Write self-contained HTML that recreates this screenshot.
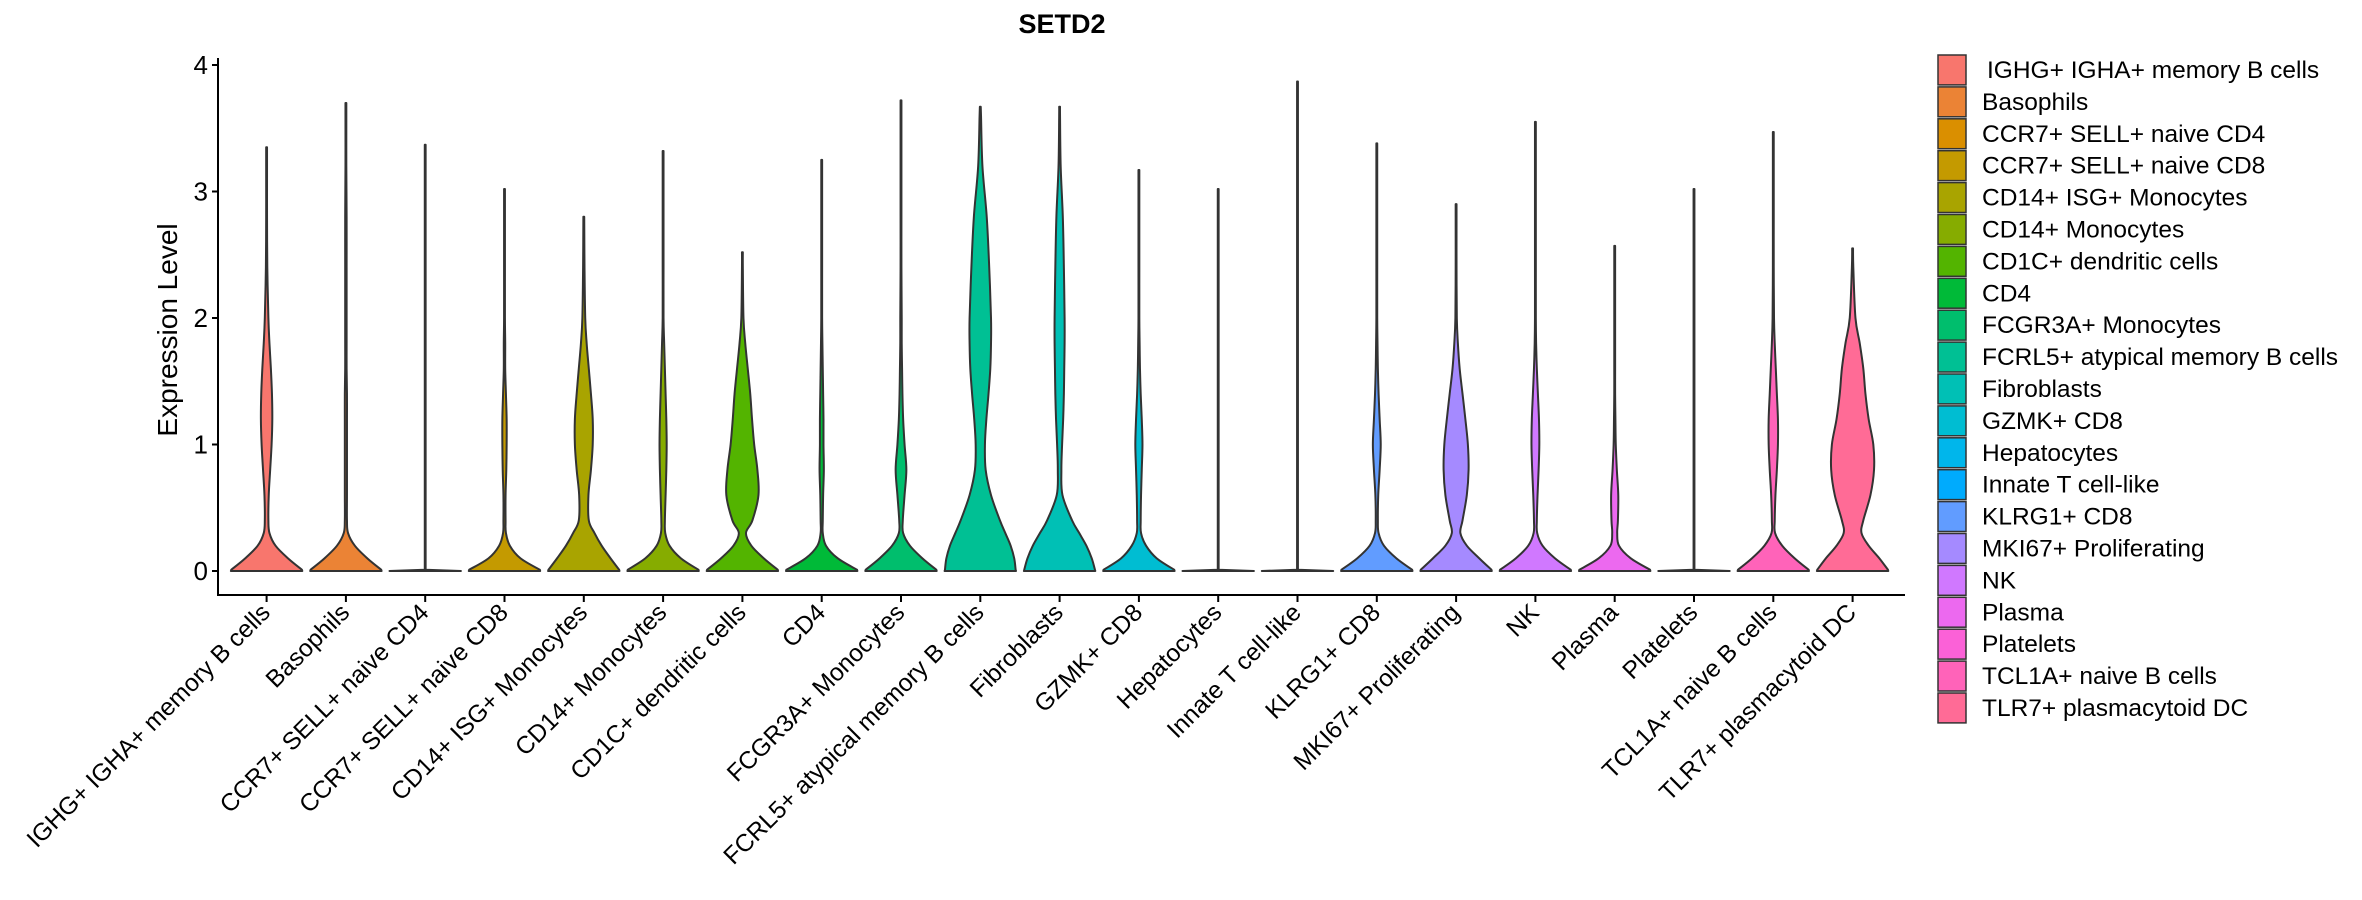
<!DOCTYPE html>
<html><head><meta charset="utf-8"><style>
html,body{margin:0;padding:0;background:#fff;}
svg{display:block;font-family:"Liberation Sans",sans-serif;}
</style></head><body>
<svg id="chart" width="2362" height="900" viewBox="0 0 2362 900" xmlns="http://www.w3.org/2000/svg">
<text x="1062" y="33" text-anchor="middle" font-size="27" font-weight="bold" fill="#000">SETD2</text>
<text transform="translate(177,330) rotate(-90)" text-anchor="middle" font-size="28" fill="#000">Expression Level</text>
<g id="plot"></g>
<g id="legend"></g>
</svg>
<script>
const categories = ["IGHG+ IGHA+ memory B cells","Basophils","CCR7+ SELL+ naive CD4","CCR7+ SELL+ naive CD8","CD14+ ISG+ Monocytes","CD14+ Monocytes","CD1C+ dendritic cells","CD4","FCGR3A+ Monocytes","FCRL5+ atypical memory B cells","Fibroblasts","GZMK+ CD8","Hepatocytes","Innate T cell-like","KLRG1+ CD8","MKI67+ Proliferating","NK","Plasma","Platelets","TCL1A+ naive B cells","TLR7+ plasmacytoid DC"];
const maxValues = [3.35,3.70,3.37,3.02,2.80,3.32,2.52,3.25,3.72,3.67,3.67,3.17,3.02,3.87,3.38,2.90,3.55,2.57,3.02,3.47,2.55];
const levels = [0,0.01,0.1,0.2,0.3,0.4,0.6,0.8,1.0,1.2,1.4,1.6,1.8,2.0,2.4,2.8,3.2,3.6];
const densities = [
 [1,.99,.6,.25,.08,.05,.06,.1,.14,.16,.15,.12,.08,.05,.02,.01,.01,.01],
 [1,.99,.6,.25,.06,.03,.03,.03,.03,.03,.03,.02,.02,.02,.02,.02,.01,.01],
 [1,.01,.01,.01,.01,.01,.01,.01,.01,.01,.01,.01,.01,.01,.01,.01,.01,.01],
 [1,.99,.45,.15,.04,.03,.03,.05,.06,.06,.04,.02,.02,.01,.01,.01,.01,.01],
 [1,.99,.75,.5,.3,.14,.13,.2,.25,.25,.2,.14,.08,.04,.02,.01,.01,.01],
 [1,.99,.5,.18,.06,.05,.07,.09,.1,.09,.07,.05,.03,.01,.01,.01,.01,.01],
 [1,.99,.6,.25,.1,.28,.45,.42,.33,.27,.22,.15,.08,.03,.01,.01,.01,.01],
 [1,.99,.45,.12,.03,.03,.04,.06,.05,.05,.04,.03,.02,.01,.01,.01,.01,.01],
 [1,.99,.6,.25,.06,.05,.1,.15,.1,.06,.04,.03,.02,.02,.01,.01,.01,.01],
 [1,.99,.95,.85,.7,.55,.3,.15,.13,.17,.23,.28,.3,.3,.25,.18,.06,.02],
 [1,.99,.9,.75,.55,.35,.08,.05,.07,.1,.12,.13,.14,.14,.12,.09,.03,.01],
 [1,.99,.5,.2,.06,.05,.06,.08,.1,.08,.05,.03,.02,.01,.01,.01,.01,.01],
 [1,.01,.01,.01,.01,.01,.01,.01,.01,.01,.01,.01,.01,.01,.01,.01,.01,.01],
 [1,.01,.01,.01,.01,.01,.01,.01,.01,.01,.01,.01,.01,.01,.01,.01,.01,.01],
 [1,.99,.55,.2,.05,.03,.04,.08,.11,.08,.05,.03,.02,.01,.01,.01,.01,.01],
 [1,.99,.65,.3,.12,.18,.3,.35,.33,.26,.18,.1,.05,.02,.01,.01,.01,.01],
 [1,.99,.55,.2,.05,.04,.06,.09,.11,.1,.07,.04,.02,.01,.01,.01,.01,.01],
 [1,.99,.45,.12,.07,.09,.1,.06,.03,.02,.01,.01,.01,.01,.01,.01,.01,.01],
 [1,.01,.01,.01,.01,.01,.01,.01,.01,.01,.01,.01,.01,.01,.01,.01,.01,.01],
 [1,.99,.6,.25,.05,.04,.06,.1,.13,.13,.1,.07,.04,.02,.01,.01,.01,.01],
 [1,.99,.75,.45,.25,.3,.5,.6,.58,.45,.36,.3,.2,.08,.02,.01,.01,.01]
];
const yTicks = [0,1,2,3,4];

const NS = "http://www.w3.org/2000/svg";
const X0 = 218, X1 = 1905, Y0 = 571, PX_PER_UNIT = 126.5, AXIS_Y = 595;
const STEP = 79.3, FIRST = 266.6, HALF = 35.7;
const xScale = i => FIRST + i * STEP;
const yScale = v => Y0 - v * PX_PER_UNIT;

function hcl(h, c, l) {
  const hr = h * Math.PI / 180;
  const L = l, U = c * Math.cos(hr), V = c * Math.sin(hr);
  const Xn = 95.047, Yn = 100, Zn = 108.883;
  const un = 4 * Xn / (Xn + 15 * Yn + 3 * Zn), vn = 9 * Yn / (Xn + 15 * Yn + 3 * Zn);
  const Y = L > 8 ? Yn * Math.pow((L + 16) / 116, 3) : Yn * L / 903.3;
  const u = U / (13 * L) + un, v = V / (13 * L) + vn;
  const X = 9 * Y * u / (4 * v), Z = -X / 3 - 5 * Y + 3 * Y / v;
  const x = X / 100, y = Y / 100, z = Z / 100;
  let r = 3.240479 * x - 1.537150 * y - 0.498535 * z;
  let g = -0.969256 * x + 1.875992 * y + 0.041556 * z;
  let b = 0.055648 * x - 0.204043 * y + 1.057311 * z;
  const gam = t => { t = t <= 0.0031308 ? 12.92 * t : 1.055 * Math.pow(t, 1 / 2.4) - 0.055; return Math.round(Math.max(0, Math.min(1, t)) * 255); };
  return "rgb(" + gam(r) + "," + gam(g) + "," + gam(b) + ")";
}
const n = categories.length;
const colors = categories.map((_, i) => hcl(15 + 360 * i / n, 100, 65));

const plot = document.getElementById("plot");
function mk(tag, attrs, parent) {
  const e = document.createElementNS(NS, tag);
  for (const k in attrs) e.setAttribute(k, attrs[k]);
  parent.appendChild(e); return e;
}

const yAxis = mk("line", {x1: X0, y1: 58, x2: X0, y2: AXIS_Y, stroke: "#000", "stroke-width": 2}, plot);


const xAxis = mk("line", {x1: X0 - 1, y1: AXIS_Y, x2: X1, y2: AXIS_Y, stroke: "#000", "stroke-width": 2}, plot);



yTicks.forEach(t => {
  const y = yScale(t);
  const tk = mk("line", {x1: X0 - 6, y1: y, x2: X0, y2: y, stroke: "#000", "stroke-width": 2}, plot);
  
  
  const lb = mk("text", {x: X0 - 10, y: y + 9, "text-anchor": "end", "font-size": 26, fill: "#000"}, plot);
  lb.textContent = t;
  
  
});

function smoothPath(pts) {
  let d = "";
  for (let i = 0; i < pts.length - 1; i++) {
    const p0 = pts[Math.max(0, i - 1)], p1 = pts[i], p2 = pts[i + 1], p3 = pts[Math.min(pts.length - 1, i + 2)];
    const c1 = [p1[0] + (p2[0] - p0[0]) / 6, p1[1] + (p2[1] - p0[1]) / 6];
    const c2 = [p2[0] - (p3[0] - p1[0]) / 6, p2[1] - (p3[1] - p1[1]) / 6];
    d += " C" + c1[0].toFixed(2) + "," + c1[1].toFixed(2) + " " + c2[0].toFixed(2) + "," + c2[1].toFixed(2) + " " + p2[0].toFixed(2) + "," + p2[1].toFixed(2);
  }
  return d;
}
const P = p => p[0].toFixed(2) + "," + p[1].toFixed(2);

categories.forEach((cat, i) => {
  const cx = xScale(i), mx = maxValues[i];
  const prof = [];
  levels.forEach((lv, k) => { if (lv < mx) prof.push([lv, Math.max(0.012, densities[i][k])]); });
  prof.push([mx, 0.012]);
  // right side: base point (level 0) then from level 0.01 upward smoothly
  const right = prof.map(p => [cx + p[1] * HALF, yScale(p[0])]);
  const left = prof.map(p => [cx - p[1] * HALF, yScale(p[0])]);
  const rUp = right.slice(1);
  const lDown = left.slice(1).reverse();
  let d = "M" + P(left[0]) + " L" + P(right[0]) + " L" + P(rUp[0]) + smoothPath(rUp);
  d += " L" + P(lDown[0]) + smoothPath(lDown) + " L" + P(left[0]) + " Z";
  const v = mk("path", {d: d, fill: colors[i], stroke: "#333", "stroke-width": 2, "stroke-linejoin": "round"}, plot);
  
  

  const tk = mk("line", {x1: cx, y1: AXIS_Y, x2: cx, y2: AXIS_Y + 7, stroke: "#000", "stroke-width": 2}, plot);
  
  
  const lb = mk("text", {transform: "translate(" + (cx + 5) + "," + (AXIS_Y + 19) + ") rotate(-45)", "text-anchor": "end", "font-size": 24.5, fill: "#000"}, plot);
  lb.textContent = cat;
  
  
});

const legend = document.getElementById("legend");
const ROW = 31.9, LTOP = 54;
categories.forEach((cat, i) => {
  const y = LTOP + i * ROW;
  const key = mk("rect", {x: 1938, y: y + 1, width: 28, height: ROW - 2, fill: colors[i], stroke: "#333", "stroke-width": 1.5}, legend);
  
  
  const t = mk("text", {x: 1982 + (i === 0 ? 5 : 0), y: y + ROW / 2 + 8, "font-size": 24.5, fill: "#000"}, legend);
  t.textContent = cat;
  
  
});
</script>
</body></html>
